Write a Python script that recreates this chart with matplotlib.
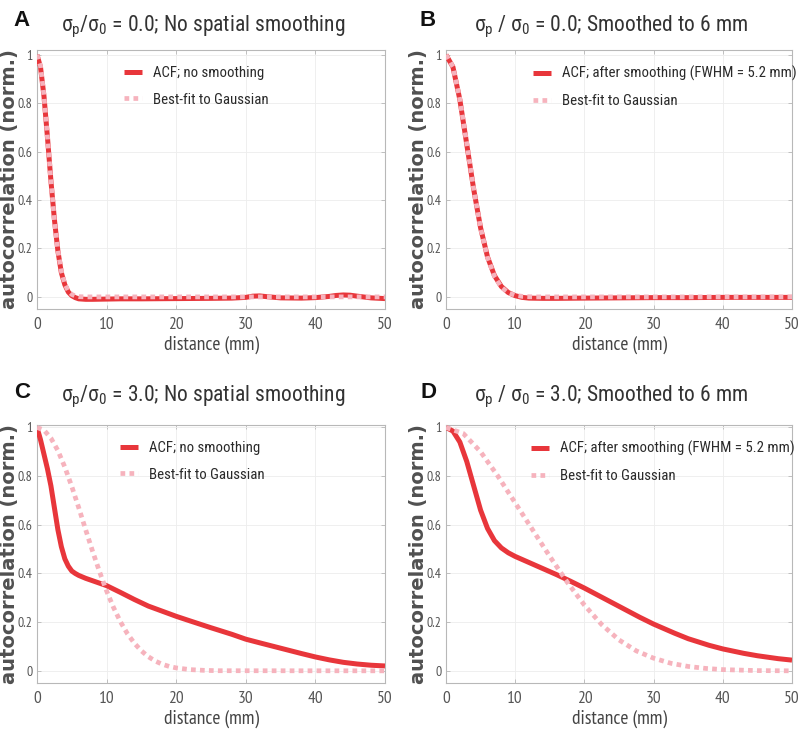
import matplotlib
matplotlib.use("Agg")
import matplotlib.pyplot as plt

TITLE_FONT = ["Roboto Condensed", "Liberation Sans", "DejaVu Sans"]
AXIS_FONT = ["PT Sans Narrow", "Liberation Sans", "DejaVu Sans"]

plt.rcParams["font.family"] = AXIS_FONT
plt.rcParams["mathtext.fontset"] = "custom"
plt.rcParams["mathtext.rm"] = "Roboto Condensed"
plt.rcParams["mathtext.it"] = "Roboto Condensed"
plt.rcParams["mathtext.default"] = "regular"

# ---------------- data ----------------
titles = ["σ$_p$/σ$_0$ = 0.0; No spatial smoothing",
          "σ$_p$ / σ$_0$ = 0.0; Smoothed to 6 mm",
          "σ$_p$/σ$_0$ = 3.0; No spatial smoothing",
          "σ$_p$ / σ$_0$ = 3.0; Smoothed to 6 mm"]
letters = ["A", "B", "C", "D"]
acf_labels = ["ACF; no smoothing", "ACF; after smoothing (FWHM = 5.2 mm)",
              "ACF; no smoothing", "ACF; after smoothing (FWHM = 5.2 mm)"]
fit_label = "Best-fit to Gaussian"
xlabel = "distance (mm)"
ylabel = "autocorrelation (norm.)"
xticks = [0, 10, 20, 30, 40, 50]
yticks = [0, 0.2, 0.4, 0.6, 0.8, 1]
ytick_labels = ["0", "0.2", "0.4", "0.6", "0.8", "1"]

# Panel A
a_acf_x = [0, 0.5, 1, 1.5, 2, 2.5, 3, 3.5, 4, 4.5, 5, 5.5, 6, 7, 8, 10, 12, 15, 20, 25, 28, 30,
           31, 32, 33, 35, 38, 40, 42, 43, 44, 45, 46, 48, 50]
a_acf_y = [1, 0.95, 0.83, 0.66, 0.48, 0.32, 0.19, 0.10, 0.05, 0.02, 0.005, -0.003, -0.008, -0.01,
           -0.01, -0.009, -0.008, -0.008, -0.007, -0.006, -0.005, -0.002, 0.003, 0.004, 0.001,
           -0.004, -0.005, -0.003, 0.002, 0.006, 0.008, 0.007, 0.003, -0.004, -0.007]
a_fit_x = [0, 0.5, 1, 1.5, 2, 2.5, 3, 3.5, 4, 4.5, 5, 5.5, 6, 7, 50]
a_fit_y = [1, 0.955, 0.832, 0.662, 0.48, 0.317, 0.192, 0.106, 0.053, 0.024, 0.01, 0.004, 0.001, 0, 0]

# Panel B
b_acf_x = [0, 1, 2, 3, 4, 5, 6, 7, 8, 9, 10, 11, 12, 14, 16, 20, 25, 30, 35, 40, 45, 50]
b_acf_y = [1, 0.95, 0.815, 0.63, 0.445, 0.285, 0.165, 0.088, 0.043, 0.018, 0.005, -0.002, -0.005,
           -0.006, -0.006, -0.005, -0.004, -0.003, -0.003, -0.002, -0.002, -0.002]
b_fit_x = [0, 1, 2, 3, 4, 5, 6, 7, 8, 9, 10, 11, 12, 13, 50]
b_fit_y = [1, 0.951, 0.817, 0.635, 0.446, 0.284, 0.163, 0.085, 0.040, 0.017, 0.0065, 0.0022,
           0.0007, 0, 0]

# Panel C
c_acf_x = [0, 0.5, 1, 1.5, 2, 2.5, 3, 3.5, 4, 4.5, 5, 5.5, 6, 7, 8, 10, 12, 14, 16, 18, 20, 22,
           25, 28, 30, 32, 35, 38, 40, 42, 44, 46, 48, 50]
c_acf_y = [1.0, 0.95, 0.89, 0.83, 0.76, 0.67, 0.58, 0.51, 0.46, 0.43, 0.41, 0.40, 0.392, 0.38,
           0.37, 0.35, 0.322, 0.293, 0.266, 0.245, 0.224, 0.205, 0.177, 0.15, 0.13, 0.115, 0.093,
           0.071, 0.057, 0.045, 0.035, 0.028, 0.023, 0.02]
c_fit_x = [0, 1, 2, 3, 4, 5, 6, 7, 8, 9, 10, 11, 12, 13, 14, 15, 16, 17, 18, 19, 20, 22, 24, 26, 50]
c_fit_y = [1, 0.989, 0.956, 0.905, 0.837, 0.757, 0.670, 0.579, 0.490, 0.406, 0.328, 0.260, 0.201,
           0.152, 0.113, 0.082, 0.058, 0.040, 0.027, 0.018, 0.012, 0.005, 0.002, 0.0005, 0]

# Panel D
d_acf_x = [0, 1, 2, 3, 4, 5, 6, 7, 8, 9, 10, 12, 14, 16, 18, 20, 22, 25, 28, 30, 33, 35, 38, 40,
           43, 45, 48, 50]
d_acf_y = [1.0, 0.985, 0.94, 0.86, 0.76, 0.66, 0.585, 0.535, 0.505, 0.485, 0.47, 0.445, 0.42,
           0.395, 0.368, 0.34, 0.31, 0.265, 0.22, 0.192, 0.155, 0.132, 0.105, 0.09, 0.072, 0.062,
           0.05, 0.044]
d_fit_x = [0, 2.5, 5, 7.5, 10, 12.5, 15, 17.5, 20, 22.5, 25, 27.5, 30, 32.5, 35, 37.5, 40, 45, 50]
d_fit_y = [1, 0.975, 0.9, 0.8, 0.69, 0.58, 0.47, 0.365, 0.27, 0.19, 0.127, 0.082, 0.052, 0.031,
           0.018, 0.01, 0.005, 0.001, 0.0]

panels = [(a_acf_x, a_acf_y, a_fit_x, a_fit_y),
          (b_acf_x, b_acf_y, b_fit_x, b_fit_y),
          (c_acf_x, c_acf_y, c_fit_x, c_fit_y),
          (d_acf_x, d_acf_y, d_fit_x, d_fit_y)]

# ---------------- layout ----------------
W, H = 800, 736
fig = plt.figure(figsize=(W / 100, H / 100), dpi=100)
fig.patch.set_facecolor("white")

# pixel boxes: left, top, right, bottom
boxes = [(37, 50, 385, 309), (446, 50, 792, 309), (37, 425, 385, 683), (446, 425, 792, 683)]
title_pos = [(203, 27), (611, 27), (203, 397), (611, 397)]
letter_pos = [(22, 20), (428, 20), (22, 392), (428, 392)]
legend_x = [124, 533, 120, 531]
ylabel_right = [19, 428, 19, 428]

RED = "#e8363b"
PINK = "#f6b3bd"
SPINE = "#b8b8b8"
TXT = "#333333"

for i, (ax_x, ax_y, fx, fy) in enumerate(panels):
    l, t, r, b = boxes[i]
    ax = fig.add_axes([l / W, 1 - b / H, (r - l) / W, (b - t) / H])
    ax.plot(ax_x, ax_y, color=RED, lw=3.6, solid_capstyle="butt", label=acf_labels[i], zorder=3)
    ax.plot(fx, fy, color=PINK, lw=3.4, linestyle=(0, (1.0, 0.9)), dash_capstyle="butt",
            label=fit_label, zorder=4)
    ax.set_xlim(0, 50)
    ax.set_ylim(-0.05, 1.02 if i < 2 else 1.01)
    ax.set_xticks(xticks)
    ax.set_xticklabels([str(v) for v in xticks], fontsize=12.5, color="#555555")
    ax.set_yticks(yticks)
    ax.set_yticklabels(ytick_labels, fontsize=10, color="#555555")
    ax.tick_params(direction="in", length=3, width=0.6, color=SPINE, top=True, right=True)
    ax.tick_params(axis="y", pad=3)
    ax.tick_params(axis="x", pad=6)
    ax.grid(True, color="#ededed", lw=0.6)
    ax.set_axisbelow(True)
    for s in ax.spines.values():
        s.set_color(SPINE)
        s.set_linewidth(0.8)
    ax.set_xlabel(xlabel, fontsize=14, color="#444444", labelpad=2)
    ax.set_ylabel(ylabel, fontsize=14, fontweight="bold",
                  family=["DejaVu Sans"], color="#505050")
    ax.yaxis.set_label_coords((ylabel_right[i] - l) / (r - l), 0.5)
    leg = ax.legend(loc="upper left",
                    bbox_to_anchor=((legend_x[i] - l) / (r - l), 1 - 16 / (b - t)),
                    frameon=False, prop={"family": TITLE_FONT, "size": 10.7},
                    handlelength=1.2, handletextpad=0.75,
                    labelspacing=0.85, borderaxespad=0, borderpad=0)
    for txt in leg.get_texts():
        txt.set_color("#2a2a2a")
    fig.text(title_pos[i][0] / W, 1 - title_pos[i][1] / H, titles[i], fontsize=15.5,
             ha="center", va="center", color=TXT, family=TITLE_FONT)
    fig.text(letter_pos[i][0] / W, 1 - letter_pos[i][1] / H, letters[i], fontsize=16,
             fontweight="bold", ha="center", va="center", color="#111111",
             family=["Liberation Sans", "DejaVu Sans"])

fig.savefig("out.png", dpi=100, facecolor="white")
